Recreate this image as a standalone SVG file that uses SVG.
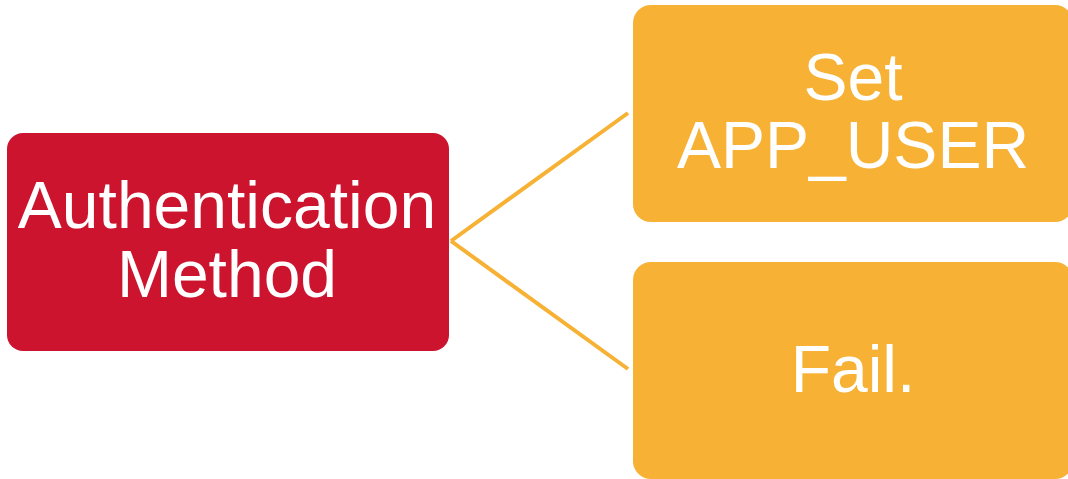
<svg xmlns="http://www.w3.org/2000/svg" width="1068" height="479" viewBox="0 0 1068 479">
  <style>
    .label { font-family: "Liberation Sans", Arial, sans-serif; font-size: 66px; fill: #ffffff; text-anchor: middle; }
    .root { fill: #CD142F; }
    .leaf { fill: #F7B134; }
    .link { stroke: #F7B134; stroke-width: 4; fill: none; }
  </style>
  <rect width="1068" height="479" fill="#ffffff"/>
  <g id="connectors">
    <line class="link" x1="451" y1="241" x2="628" y2="113"/>
    <line class="link" x1="451" y1="241" x2="628" y2="369"/>
  </g>
  <g id="auth-method">
    <rect class="root" x="7" y="133" width="442" height="218" rx="16"/>
    <text class="label" x="227" y="228">Authentication</text>
    <text class="label" x="227" y="297">Method</text>
  </g>
  <g id="set-app-user">
    <rect class="leaf" x="633" y="5" width="440" height="217" rx="18"/>
    <text class="label" x="853" y="100">Set</text>
    <text class="label" x="853" y="168">APP_USER</text>
  </g>
  <g id="fail">
    <rect class="leaf" x="633" y="262" width="440" height="217" rx="18"/>
    <text class="label" x="853" y="392">Fail.</text>
  </g>
</svg>
